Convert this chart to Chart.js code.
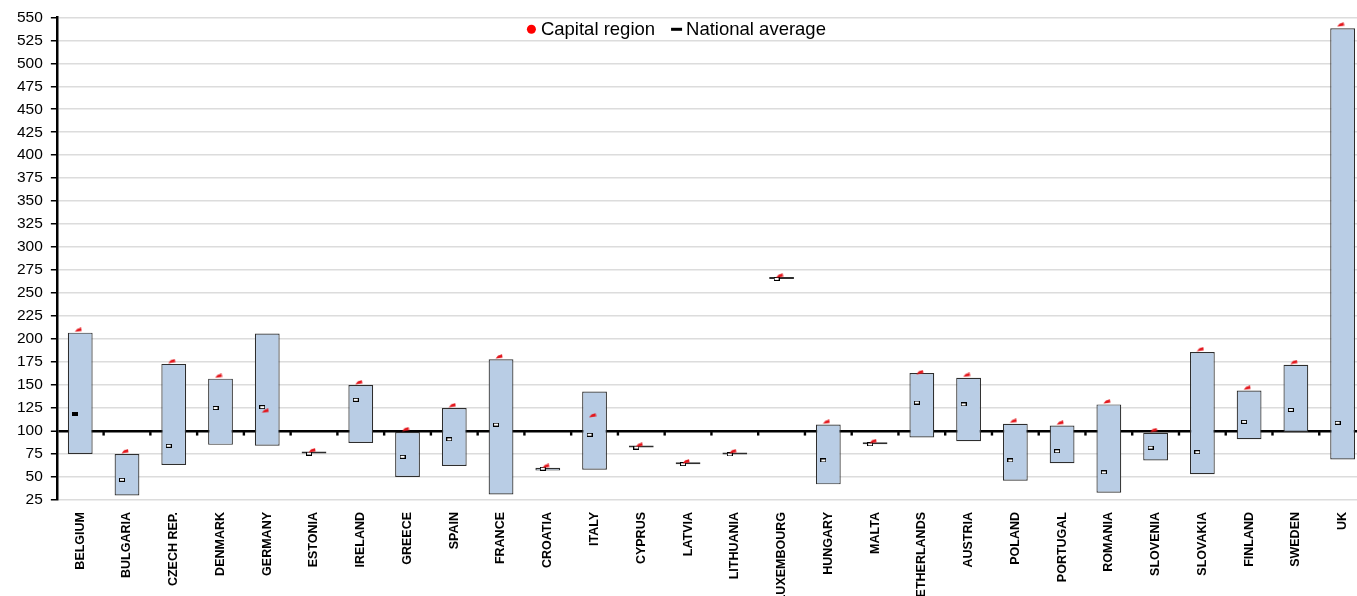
<!DOCTYPE html>
<html>
<head>
<meta charset="utf-8">
<script src="https://cdn.jsdelivr.net/npm/chart.js@4/dist/chart.umd.min.js"></script>
<style>
  html, body { margin: 0; background: #fff; overflow: hidden; }
  #frame { width: 1357px; height: 596px; overflow: hidden; }
  #wrap { width: 1371px; height: 596px; position: relative; }
</style>
</head>
<body>
<div id="frame"><div id="wrap"><canvas id="rangeChart"></canvas></div></div>
<script>
// countries on the category axis
var countries = ['BELGIUM', 'BULGARIA', 'CZECH REP.', 'DENMARK', 'GERMANY', 'ESTONIA', 'IRELAND',
  'GREECE', 'SPAIN', 'FRANCE', 'CROATIA', 'ITALY', 'CYPRUS', 'LATVIA', 'LITHUANIA', 'LUXEMBOURG',
  'HUNGARY', 'MALTA', 'NETHERLANDS', 'AUSTRIA', 'POLAND', 'PORTUGAL', 'ROMANIA', 'SLOVENIA',
  'SLOVAKIA', 'FINLAND', 'SWEDEN', 'UK'];

// lowest and highest region of each country
var regionMin = [75, 30, 63, 85, 84, 75.5, 87, 50, 62, 31, 57, 58, 82, 64, 74.5, 265.5,
  42, 85.5, 93, 89, 46, 65, 33, 68, 53, 91, 99, 69];
var regionMax = [207, 75, 173, 157, 206, 75.5, 150, 99, 125, 178, 60, 143, 82, 64, 74.5, 265.5,
  107, 85.5, 163, 158, 108, 106, 129, 98, 186, 144, 172, 538];

// capital region and national average
var capital = [210, 78, 176, 160, 122, 79, 153, 102, 128, 181, 62, 117, 85, 67, 78, 269,
  110, 89, 164, 161, 111, 109, 132, 101, 189, 147, 175, 542];
var nationalAvg = [118, 47, 84, 125, 126, 75.5, 134, 72, 91, 107, 59, 96, 82, 64, 74.5, 265.5,
  68, 85.5, 131, 129, 68, 78, 55, 82, 77, 110, 123, 109];

var legendItems = ['Capital region', 'National average'];
var yTicks = {min: 25, max: 550, step: 25};
var euAverage = 100;

var FONT = 'Arial, "Liberation Sans", sans-serif';

// little marker images
function makeAvgMarker(filled) {
  var c = document.createElement('canvas');
  c.width = 6; c.height = 4;
  var g = c.getContext('2d');
  g.fillStyle = '#000';
  g.fillRect(0, 0, 6, 4);
  if (!filled) {
    g.fillStyle = '#fff';
    g.fillRect(1, 1, 4, 2);
  }
  return c;
}
function makeCapitalMarker() {
  var c = document.createElement('canvas');
  c.width = 8; c.height = 5;
  var g = c.getContext('2d');
  g.fillStyle = '#e3161c';
  g.beginPath();
  g.moveTo(0.5, 4.5);
  g.lineTo(3, 1.5);
  g.lineTo(7, 0.3);
  g.lineTo(7.5, 3.5);
  g.closePath();
  g.fill();
  return c;
}
var avgOpen = makeAvgMarker(false);
var avgFilled = makeAvgMarker(true);
var capMarker = makeCapitalMarker();

var ranges = countries.map(function (c, i) { return [regionMin[i], regionMax[i]]; });

// legend, small ticks under the 100 line, nudging of the markers
var extrasPlugin = {
  id: 'extras',
  beforeDatasetsDraw: function (chart) {
    var x = chart.scales.x, y = chart.scales.y, ctx = chart.ctx;
    var yy = y.getPixelForValue(euAverage);
    ctx.save();
    ctx.fillStyle = '#000';
    for (var i = 1; i < countries.length; i++) {
      var bx = (x.getPixelForTick(i - 1) + x.getPixelForTick(i)) / 2;
      ctx.fillRect(bx - 1.2, yy + 1, 2.4, 3.5);
    }
    ctx.restore();
  },
  beforeDatasetDraw: function (chart, args) {
    var shift = chart.data.datasets[args.index].nudge;
    if (shift) { chart.ctx.save(); chart.ctx.translate(shift, 0); }
  },
  afterDatasetDraw: function (chart, args) {
    if (chart.data.datasets[args.index].nudge) chart.ctx.restore();
  },
  afterDraw: function (chart) {
    var ctx = chart.ctx, area = chart.chartArea;
    ctx.save();
    ctx.font = '18.5px ' + FONT;
    ctx.textBaseline = 'middle';
    ctx.fillStyle = '#000';
    var w1 = ctx.measureText(legendItems[0]).width;
    var w2 = ctx.measureText(legendItems[1]).width;
    var total = 14 + w1 + 16 + 15 + w2;
    var x0 = (area.left + area.right) / 2 - 35 - total / 2;
    var yc = area.top + 12;
    ctx.fillStyle = '#ff0000';
    ctx.beginPath();
    ctx.arc(x0 + 4.5, yc, 4.5, 0, Math.PI * 2);
    ctx.fill();
    ctx.fillStyle = '#000';
    ctx.fillText(legendItems[0], x0 + 14, yc + 1);
    var x1 = x0 + 14 + w1 + 16;
    ctx.fillRect(x1, yc - 1.5, 11, 3);
    ctx.fillText(legendItems[1], x1 + 15, yc + 1);
    ctx.restore();
  }
};

var ctx = document.getElementById('rangeChart').getContext('2d');
var chart = new Chart(ctx, {
  type: 'bar',
  data: {
    labels: countries,
    datasets: [{
      label: legendItems[0],
      type: 'line',
      data: capital,
      showLine: false,
      pointStyle: capMarker,
      pointRadius: 4,
      nudge: -2,
      order: 0
    }, {
      label: legendItems[1],
      type: 'line',
      data: nationalAvg,
      showLine: false,
      pointStyle: function (c) { return c.dataIndex === 0 ? avgFilled : avgOpen; },
      pointRadius: 3,
      nudge: -5,
      order: 1
    }, {
      label: 'Regions',
      data: ranges,
      backgroundColor: '#b9cde5',
      borderColor: '#2e2e2e',
      borderWidth: 1.2,
      borderSkipped: false,
      minBarLength: 2,
      categoryPercentage: 1,
      barPercentage: 0.53,
      order: 2
    }]
  },
  options: {
    responsive: true,
    maintainAspectRatio: false,
    animation: false,
    layout: {padding: {top: 11, left: 9, right: 0, bottom: 0}},
    plugins: {
      tooltip: {enabled: false},
      legend: {display: false}
    },
    scales: {
      x: {
        grid: {display: false},
        border: {display: false},
        ticks: {
          autoSkip: false,
          minRotation: 90,
          maxRotation: 90,
          padding: 4,
          color: '#000',
          font: {family: FONT, size: 12.5, weight: 'bold'}
        },
        afterFit: function (scale) { scale.height = 96; }
      },
      y: {
        min: yTicks.min,
        max: yTicks.max,
        ticks: {
          stepSize: yTicks.step,
          padding: 8,
          color: '#000',
          font: {family: FONT, size: 15.5}
        },
        grid: {
          color: function (c) { return c.tick && c.tick.value === euAverage ? '#000' : '#dcdcdc'; },
          lineWidth: function (c) { return c.tick && c.tick.value === euAverage ? 2.5 : 1.5; },
          tickLength: 6,
          tickColor: '#000',
          tickWidth: 1.5
        },
        border: {color: '#000', width: 2.5}
      }
    }
  },
  plugins: [extrasPlugin]
});
</script>
</body>
</html>
